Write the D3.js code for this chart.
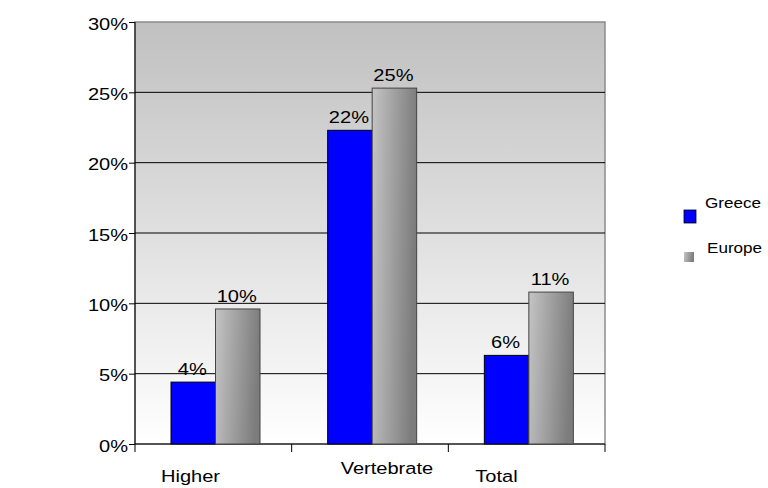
<!DOCTYPE html>
<html>
<head>
<meta charset="utf-8">
<script src="https://cdn.jsdelivr.net/npm/d3@7"></script>
<style>
  body { margin: 0; background: #fff; }
  text { font-family: "Liberation Sans", Arial, sans-serif; fill: #000; }
</style>
</head>
<body>
<div id="chart"></div>
<script>
// chart data
const categories = ["Higher", "Vertebrate", "Total"];
const seriesNames = ["Greece", "Europe"];
const greece = [0.044, 0.223, 0.063];
const europe = [0.096, 0.253, 0.108];
const yTicks = [0, 0.05, 0.10, 0.15, 0.20, 0.25, 0.30];

const margin = { top: 22, left: 135, right: 163, bottom: 44 };
const totalWidth = 768, totalHeight = 488;
const width = totalWidth - margin.left - margin.right;
const height = totalHeight - margin.top - margin.bottom;
const stretch = 1.18; // original text is drawn a little wide
const fontSize = "17px";

const svg = d3.select("#chart").append("svg")
  .attr("width", totalWidth)
  .attr("height", totalHeight);

const defs = svg.append("defs");
const bg = defs.append("linearGradient")
  .attr("id", "bgGrad").attr("x1", 0).attr("y1", 0).attr("x2", 0).attr("y2", 1);
bg.append("stop").attr("offset", "0%").attr("stop-color", "#c0c0c0");
bg.append("stop").attr("offset", "100%").attr("stop-color", "#ffffff");

const eu = defs.append("linearGradient")
  .attr("id", "euGrad").attr("x1", 0).attr("y1", 0).attr("x2", 1).attr("y2", 0.15);
eu.append("stop").attr("offset", "0%").attr("stop-color", "#c4c4c4");
eu.append("stop").attr("offset", "100%").attr("stop-color", "#7c7c7c");

const g = svg.append("g")
  .attr("transform", `translate(${margin.left},${margin.top})`);

// place a horizontally stretched text at (px, py)
function wideText(sel, px, py) {
  return sel.attr("transform", (d, i) =>
    `translate(${typeof px === "function" ? px(d, i) : px},${typeof py === "function" ? py(d, i) : py}) scale(${stretch},1)`);
}

const x = d3.scaleBand()
  .domain(categories)
  .range([0, width]);

const inner = d3.scaleBand()
  .domain(seriesNames)
  .range([36, 36 + 89]);

const y = d3.scaleLinear()
  .domain([0, 0.30])
  .range([height, 0]);

// plot background
g.append("rect")
  .attr("width", width)
  .attr("height", height)
  .style("fill", "url(#bgGrad)")
  .style("stroke", "#8c8c8c")
  .style("stroke-width", 1.5);

// grid lines
g.selectAll(".grid")
  .data(yTicks.slice(1, -1))
  .enter().append("line")
  .attr("class", "grid")
  .attr("x1", 0).attr("x2", width)
  .attr("y1", d => y(d)).attr("y2", d => y(d))
  .style("stroke", "#000")
  .style("stroke-width", 1);

// y axis
const yAxis = d3.axisLeft(y)
  .tickValues(yTicks)
  .tickFormat(d3.format(".0%"))
  .tickSize(6)
  .tickPadding(2);
const yg = g.append("g").attr("class", "y axis").call(yAxis);
yg.select(".domain").attr("d", `M0,${height}V0`).style("stroke", "#000");
yg.selectAll("text")
  .style("font-size", fontSize)
  .attr("dy", "0.42em")
  .attr("x", 0)
  .attr("transform", `translate(-7,0) scale(${stretch},1)`);

// x axis
const xAxis = g.append("g")
  .attr("transform", `translate(0,${height})`);
xAxis.append("line")
  .attr("x1", 0).attr("x2", width)
  .style("stroke", "#000");
xAxis.selectAll(".xtick")
  .data(categories.concat(["end"]))
  .enter().append("line")
  .attr("x1", (d, i) => i < categories.length ? x(d) : width)
  .attr("x2", (d, i) => i < categories.length ? x(d) : width)
  .attr("y1", 0).attr("y2", 8)
  .style("stroke", "#000");

// category labels sit a bit irregularly in the original
const labelDx = [26, 49, 27];
const labelDy = [38, 30, 38];
wideText(xAxis.selectAll(".xlabel")
  .data(categories)
  .enter().append("text")
  .style("font-size", fontSize)
  .text(d => d), (d, i) => x(d) + labelDx[i], (d, i) => labelDy[i]);

// bars
const rows = categories.map((c, i) => ({ cat: c, Greece: greece[i], Europe: europe[i] }));

const groups = g.selectAll(".cat")
  .data(rows)
  .enter().append("g")
  .attr("transform", d => `translate(${x(d.cat)},0)`);

groups.selectAll("rect")
  .data(d => seriesNames.map(s => ({ s, v: d[s] })))
  .enter().append("rect")
  .attr("x", d => inner(d.s))
  .attr("width", inner.bandwidth())
  .attr("y", d => y(d.v))
  .attr("height", d => height - y(d.v))
  .style("fill", d => d.s === "Greece" ? "#0000ff" : "url(#euGrad)")
  .style("stroke", d => d.s === "Greece" ? "#000" : "#444")
  .style("stroke-width", 1);

wideText(groups.selectAll(".lbl")
  .data(d => seriesNames.map(s => ({ s, v: d[s] })))
  .enter().append("text")
  .style("text-anchor", "middle")
  .style("font-size", fontSize)
  .text(d => d3.format(".0%")(d.v)),
  d => inner(d.s) + inner.bandwidth() / 2 - 1, d => y(d.v) - 7);

// legend
const legend = svg.append("g").attr("transform", "translate(684,200)");
legend.append("rect")
  .attr("x", 0).attr("y", 10).attr("width", 12).attr("height", 13)
  .style("fill", "#0000ff").style("stroke", "#000").style("stroke-width", 0.8);
wideText(legend.append("text")
  .style("font-size", "14.5px").text(seriesNames[0]), 21, 8);
legend.append("rect")
  .attr("x", 0).attr("y", 52).attr("width", 10).attr("height", 10)
  .style("fill", "url(#euGrad)");
wideText(legend.append("text")
  .style("font-size", "14.5px").text(seriesNames[1]), 23, 53);
</script>
</body>
</html>
